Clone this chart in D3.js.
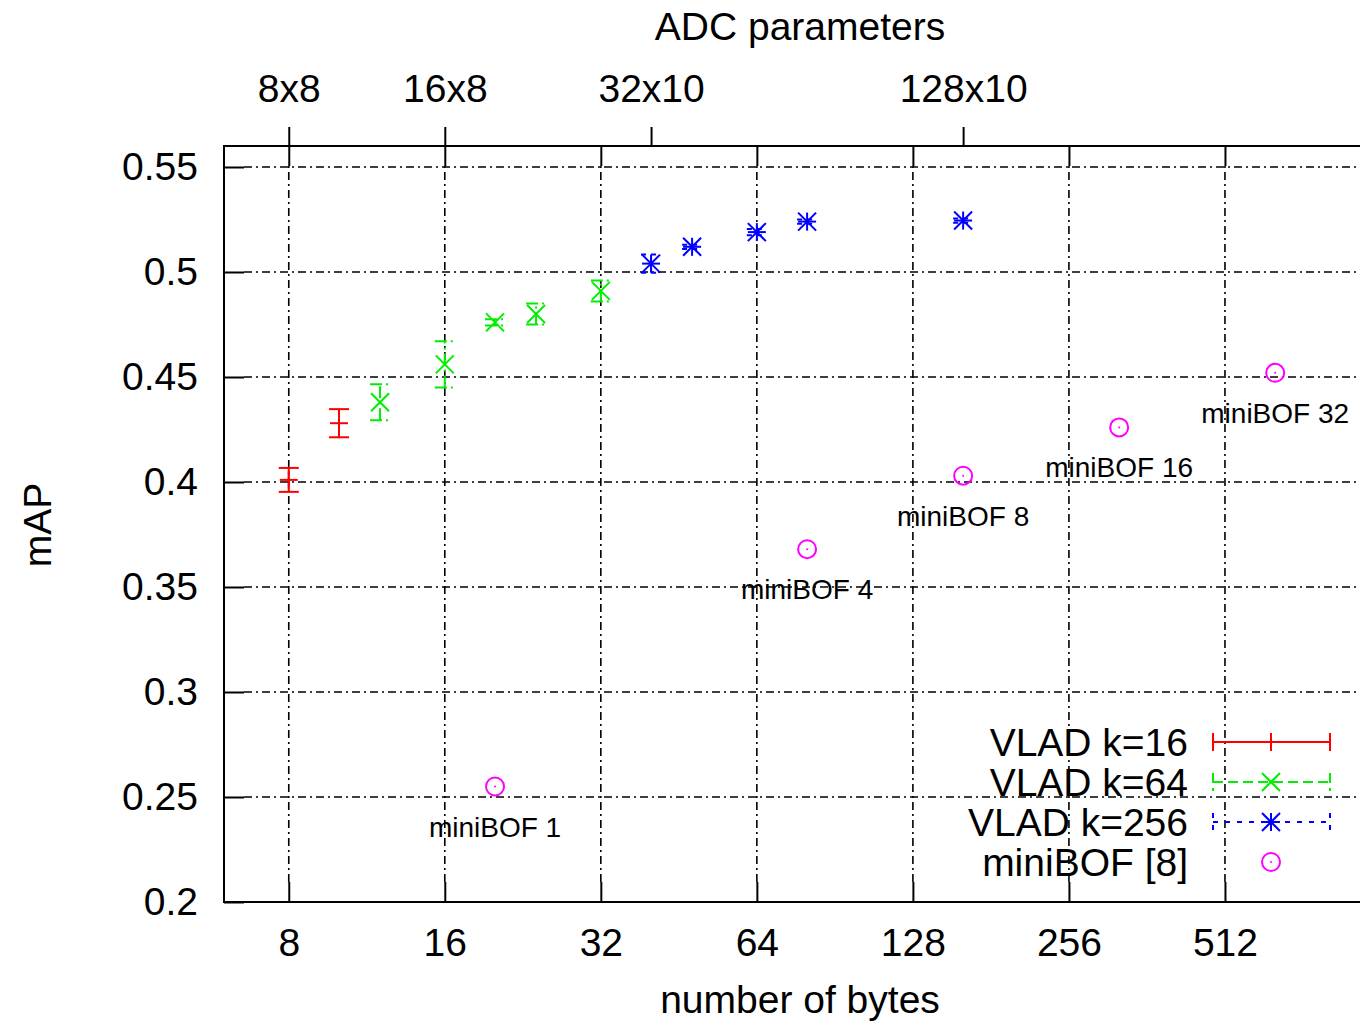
<!DOCTYPE html>
<html>
<head>
<meta charset="utf-8">
<script src="https://cdn.jsdelivr.net/npm/d3@7"></script>
<style>
	body { margin: 0; background: #fff; }
	svg { display: block; font-family: "Liberation Sans", Arial, sans-serif; }
</style>
</head>
<body>
<div id="chart"></div>
<script>
// VLAD k=16
var bytes16 = [8, 10];
var map16 = [0.401, 0.428];
var err16 = [0.0057, 0.0067];

// VLAD k=64
var bytes64 = [12, 16, 20, 24, 32];
var map64 = [0.438, 0.456, 0.476, 0.480, 0.491];
var err64 = [0.0086, 0.011, 0.0015, 0.005, 0.005];

// VLAD k=256
var bytes256 = [40, 48, 64, 80, 160];
var map256 = [0.504, 0.512, 0.519, 0.524, 0.5245];
var err256 = [0.0043, 0.001, 0.0015, 0.001, 0.001];

// miniBOF [8]
var bytesBof = [20, 80, 160, 320, 640];
var mapBof = [0.255, 0.368, 0.403, 0.426, 0.452];
var labelsBof = ["miniBOF 1", "miniBOF 4", "miniBOF 8", "miniBOF 16", "miniBOF 32"];

// axes
var xTicks = [8, 16, 32, 64, 128, 256, 512];
var yTicks = [0.2, 0.25, 0.3, 0.35, 0.4, 0.45, 0.5, 0.55];
var adcTicks = [8, 16, 40, 160];
var adcLabels = ["8x8", "16x8", "32x10", "128x10"];
var legendNames = ["VLAD k=16", "VLAD k=64", "VLAD k=256", "miniBOF [8]"];

(function() {
	var width = 1360, height = 1025,
		left = 224, top = 146, bottom = 902, right = 1381,
		tickLen = 20, mk = 9,
		gridDash = "8,4,2,4";

	var svg = d3.select("#chart").append("svg")
		.attr("width", width)
		.attr("height", height);

	var x = d3.scaleLog().base(2).domain([6, 1024]).range([left, right]);
	var y = d3.scaleLinear().domain([0.2, 0.56]).range([bottom, top]);

	// grid
	var grid = svg.append("g").attr("class", "grid")
		.attr("stroke", "#000").attr("stroke-width", 1.6).attr("stroke-dasharray", gridDash);
	grid.selectAll("line.gx").data(xTicks).enter().append("line")
		.attr("x1", function(d) { return x(d); }).attr("x2", function(d) { return x(d); })
		.attr("y1", bottom - tickLen).attr("y2", top + tickLen);
	grid.selectAll("line.gy").data(yTicks.slice(1)).enter().append("line")
		.attr("y1", function(d) { return y(d); }).attr("y2", function(d) { return y(d); })
		.attr("x1", left + tickLen).attr("x2", right - tickLen);

	// bottom axis, mirrored inward ticks at top
	svg.append("g")
		.attr("transform", "translate(0," + bottom + ")")
		.call(d3.axisBottom(x).tickValues(xTicks).tickFormat(d3.format("d")).tickSizeInner(-tickLen).tickSizeOuter(0).tickPadding(26));
	svg.append("g")
		.attr("transform", "translate(0," + top + ")")
		.call(d3.axisTop(x).tickValues(xTicks).tickFormat("").tickSizeInner(-tickLen).tickSizeOuter(0));

	// top ADC axis, outward ticks
	svg.append("g")
		.attr("transform", "translate(0," + top + ")")
		.call(d3.axisTop(x).tickValues(adcTicks).tickFormat(function(d, i) { return adcLabels[i]; }).tickSizeInner(19).tickSizeOuter(0).tickPadding(25));

	// left axis
	svg.append("g")
		.attr("transform", "translate(" + left + ",0)")
		.call(d3.axisLeft(y).tickValues(yTicks).tickFormat(d3.format("~g")).tickSizeInner(-tickLen).tickSizeOuter(0).tickPadding(26));
	svg.append("g")
		.attr("transform", "translate(" + right + ",0)")
		.call(d3.axisRight(y).tickValues(yTicks).tickFormat("").tickSizeInner(-tickLen).tickSizeOuter(0));

	svg.selectAll(".domain").remove();
	svg.selectAll(".tick line").attr("stroke", "#000").attr("stroke-width", 2);
	svg.selectAll(".tick text").attr("font-size", 39).attr("fill", "#000")
		.attr("font-family", "'Liberation Sans', Arial, sans-serif");

	// border
	svg.append("rect")
		.attr("x", left).attr("y", top)
		.attr("width", right - left).attr("height", bottom - top)
		.attr("fill", "none").attr("stroke", "#000").attr("stroke-width", 2);

	// axis titles
	svg.append("text").attr("x", 800).attr("y", 40).attr("text-anchor", "middle")
		.attr("font-size", 39).text("ADC parameters");
	svg.append("text").attr("x", 800).attr("y", 1013).attr("text-anchor", "middle")
		.attr("font-size", 39).text("number of bytes");
	svg.append("text").attr("transform", "translate(51,525) rotate(-90)").attr("text-anchor", "middle")
		.attr("font-size", 39).text("mAP");

	// series drawing helpers
	function errBars(g, xs, ys, es, color, dash) {
		xs.forEach(function(b, i) {
			var px = x(b), lo = y(ys[i] - es[i]), hi = y(ys[i] + es[i]);
			var e = g.append("g").attr("stroke", color).attr("stroke-width", 2)
				.attr("stroke-dasharray", dash || null);
			e.append("line").attr("x1", px).attr("x2", px).attr("y1", lo).attr("y2", hi);
			e.append("line").attr("x1", px - 10).attr("x2", px + 10).attr("y1", lo).attr("y2", lo);
			e.append("line").attr("x1", px - 10).attr("x2", px + 10).attr("y1", hi).attr("y2", hi);
		});
	}

	function marker(g, px, py, type, color) {
		var m = g.append("g").attr("stroke", color).attr("stroke-width", 2).attr("fill", "none");
		if (type === "plus" || type === "star") {
			m.append("line").attr("x1", px - mk).attr("x2", px + mk).attr("y1", py).attr("y2", py);
			m.append("line").attr("x1", px).attr("x2", px).attr("y1", py - mk).attr("y2", py + mk);
		}
		if (type === "cross" || type === "star") {
			m.append("line").attr("x1", px - mk).attr("x2", px + mk).attr("y1", py - mk).attr("y2", py + mk);
			m.append("line").attr("x1", px - mk).attr("x2", px + mk).attr("y1", py + mk).attr("y2", py - mk);
		}
		if (type === "circle") {
			m.append("circle").attr("cx", px).attr("cy", py).attr("r", 9);
			m.append("circle").attr("cx", px).attr("cy", py).attr("r", 1).attr("fill", color).attr("stroke", "none");
		}
	}

	var plot = svg.append("g").attr("class", "series");
	errBars(plot, bytes16, map16, err16, "#ff0000");
	bytes16.forEach(function(b, i) { marker(plot, x(b), y(map16[i]), "plus", "#ff0000"); });
	errBars(plot, bytes64, map64, err64, "#00ee00", "12,4,2,4");
	bytes64.forEach(function(b, i) { marker(plot, x(b), y(map64[i]), "cross", "#00ee00"); });
	errBars(plot, bytes256, map256, err256, "#0000ff", "5,5");
	bytes256.forEach(function(b, i) { marker(plot, x(b), y(map256[i]), "star", "#0000ff"); });
	bytesBof.forEach(function(b, i) { marker(plot, x(b), y(mapBof[i]), "circle", "#ff00ff"); });

	// miniBOF labels
	svg.append("g").selectAll("text").data(labelsBof).enter().append("text")
		.attr("x", function(d, i) { return x(bytesBof[i]); })
		.attr("y", function(d, i) { return y(mapBof[i]) + 50; })
		.attr("text-anchor", "middle")
		.attr("font-size", 28)
		.attr("fill", "#000")
		.text(function(d) { return d; });

	// legend
	var legend = svg.append("g").attr("class", "legend");
	var colors = ["#ff0000", "#00ee00", "#0000ff", "#ff00ff"];
	var dashes = [null, "10,5", "5,7", null];
	var types = ["plus", "cross", "star", "circle"];
	var lx1 = 1213, lx2 = 1330, lxm = 1271;
	legendNames.forEach(function(name, i) {
		var ly = 742 + i * 40;
		legend.append("text").attr("x", 1188).attr("y", ly + 14)
			.attr("text-anchor", "end").attr("font-size", 39).text(name);
		if (i < 3) {
			var l = legend.append("g").attr("stroke", colors[i]).attr("stroke-width", 2)
				.attr("stroke-dasharray", dashes[i]);
			l.append("line").attr("x1", lx1).attr("x2", lx2).attr("y1", ly).attr("y2", ly);
			l.append("line").attr("x1", lx1).attr("x2", lx1).attr("y1", ly - 9).attr("y2", ly + 9);
			l.append("line").attr("x1", lx2).attr("x2", lx2).attr("y1", ly - 9).attr("y2", ly + 9);
		}
		marker(legend, lxm, ly, types[i], colors[i]);
	});
})();
</script>
</body>
</html>
